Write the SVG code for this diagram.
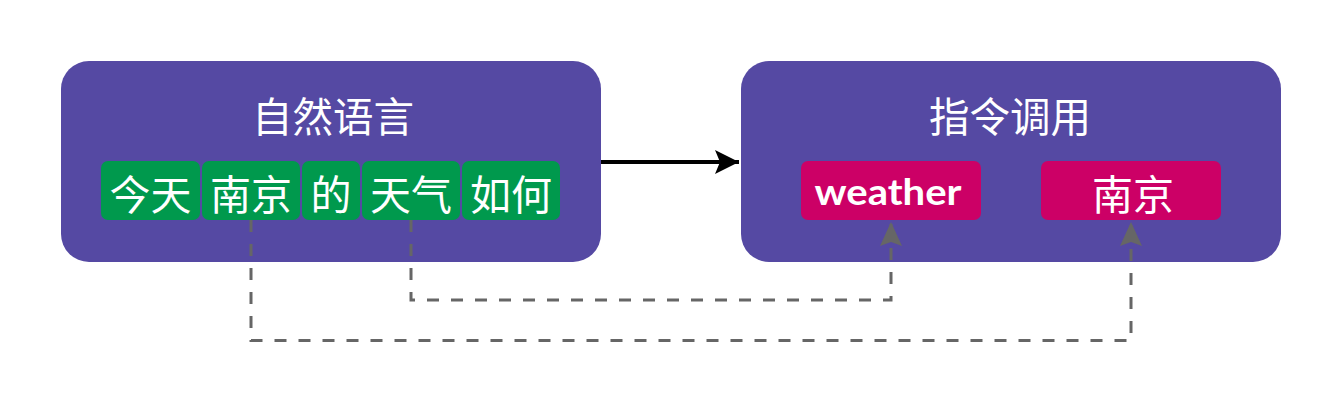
<svg xmlns="http://www.w3.org/2000/svg" width="1342" height="420" viewBox="0 0 1342 420">
  <style>
    .panel { fill: #5549a3; }
    .token { fill: #00994d; }
    .slot { fill: #cc0066; }
    .title { font-family: "Noto Sans CJK SC", sans-serif; font-size: 40.5px; fill: #ffffff; text-anchor: middle; dominant-baseline: central; }
    .tok { font-family: "Noto Sans CJK SC", sans-serif; font-size: 41px; fill: #ffffff; text-anchor: middle; dominant-baseline: central; }
    .latin { font-family: "Lato", "DejaVu Sans", sans-serif; font-weight: bold; font-size: 37px; fill: #ffffff; text-anchor: middle; dominant-baseline: central; }
    .dash { fill: none; stroke: #666666; stroke-width: 3; stroke-dasharray: 12 12; }
    .solid { fill: none; stroke: #000000; stroke-width: 4; }
  </style>
  <defs>
    <marker id="arrGray" markerUnits="userSpaceOnUse" orient="auto" refX="0" refY="0" markerWidth="30" markerHeight="30" overflow="visible">
      <path d="M0,0 L-24,-11 L-20,0 L-24,11 Z" fill="#666666"/>
    </marker>
    <marker id="arrBlack" markerUnits="userSpaceOnUse" orient="auto" refX="0" refY="0" markerWidth="30" markerHeight="30" overflow="visible">
      <path d="M0,0 L-24,-12 L-19,0 L-24,12 Z" fill="#000000"/>
    </marker>
  </defs>

  <g id="natural-language">
    <rect class="panel" x="61" y="61" width="540" height="201" rx="28" ry="28"/>
    <text class="title" x="333" y="114">自然语言</text>
  </g>
  <g id="token-jintian">
    <rect class="token" x="101" y="161" width="99" height="59" rx="7" ry="7"/>
    <text class="tok" x="150.5" y="192">今天</text>
  </g>
  <g id="token-nanjing">
    <rect class="token" x="202" y="161" width="98" height="59" rx="7" ry="7"/>
    <text class="tok" x="251" y="192">南京</text>
  </g>
  <g id="token-de">
    <rect class="token" x="302" y="161" width="58" height="59" rx="7" ry="7"/>
    <text class="tok" x="331" y="192">的</text>
  </g>
  <g id="token-tianqi">
    <rect class="token" x="362" y="161" width="98" height="59" rx="7" ry="7"/>
    <text class="tok" x="411" y="192">天气</text>
  </g>
  <g id="token-ruhe">
    <rect class="token" x="462" y="161" width="98" height="59" rx="7" ry="7"/>
    <text class="tok" x="511" y="192">如何</text>
  </g>

  <g id="command-call">
    <rect class="panel" x="741" y="61" width="540" height="201" rx="28" ry="28"/>
    <text class="title" x="1010" y="114">指令调用</text>
  </g>
  <g id="slot-weather">
    <rect class="slot" x="801" y="161" width="180" height="59" rx="7" ry="7"/>
    <text class="latin" x="888" y="190" textLength="147" lengthAdjust="spacingAndGlyphs">weather</text>
  </g>
  <g id="slot-nanjing">
    <rect class="slot" x="1041" y="161" width="180" height="59" rx="7" ry="7"/>
    <text class="tok" x="1133" y="192">南京</text>
  </g>

  <g id="connectors">
    <path class="solid" d="M601,162 L739,162" marker-end="url(#arrBlack)"/>
    <path class="dash" d="M411,220 L411,300 L891,300 L891,222" marker-end="url(#arrGray)"/>
    <path class="dash" d="M251,220 L251,340.5 L1131,340.5 L1131,222" marker-end="url(#arrGray)"/>
  </g>
</svg>
